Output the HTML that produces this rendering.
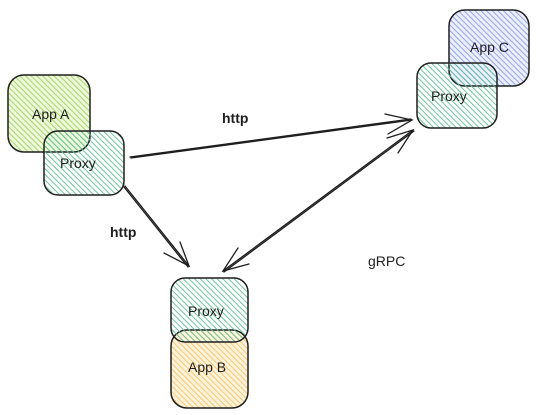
<!DOCTYPE html>
<html><head><style>
html,body{margin:0;padding:0;background:#fff;width:537px;height:415px;overflow:hidden}
svg text{font-family:"Liberation Sans",sans-serif;font-size:14px;fill:#1e1e1e}
</style></head><body>
<svg width="537" height="415" viewBox="0 0 537 415" xmlns="http://www.w3.org/2000/svg">
<defs>
<pattern id="hg" width="4" height="4" patternUnits="userSpaceOnUse" patternTransform="rotate(-45)"><rect width="4" height="4" fill="#eef8dc"/><line x1="0" y1="0" x2="0" y2="4" stroke="#9fd35a" stroke-width="1.8"/></pattern>
<pattern id="ht" width="4" height="4" patternUnits="userSpaceOnUse" patternTransform="rotate(-45)"><line x1="0" y1="0" x2="0" y2="4" stroke="#5cc097" stroke-width="1.8"/></pattern>
<pattern id="hb" width="4" height="4" patternUnits="userSpaceOnUse" patternTransform="rotate(-45)"><rect width="4" height="4" fill="#eceffc"/><line x1="0" y1="0" x2="0" y2="4" stroke="#8b9bee" stroke-width="1.8"/></pattern>
<pattern id="ho" width="4" height="4" patternUnits="userSpaceOnUse" patternTransform="rotate(-45)"><rect width="4" height="4" fill="#fdf3dc"/><line x1="0" y1="0" x2="0" y2="4" stroke="#f7c461" stroke-width="1.8"/></pattern>
</defs>
<g stroke="#1e1e1e" stroke-width="1.5">
<rect x="8" y="75" width="82" height="77" rx="16" fill="url(#hg)"/>
<rect x="44" y="131" width="80" height="64" rx="14" fill="url(#ht)"/>
<rect x="449" y="10" width="80" height="76" rx="16" fill="url(#hb)"/>
<rect x="417" y="63" width="80" height="65" rx="14" fill="url(#ht)"/>
<rect x="171" y="330" width="77" height="78" rx="16" fill="url(#ho)"/>
<rect x="171" y="278" width="77" height="64" rx="14" fill="url(#ht)"/>
</g>
<g stroke="#1e1e1e" stroke-width="1.3" fill="none" stroke-linecap="round">
<path d="M131 158 L412 120 M130 157 L411 119"/>
<path d="M385 114 L412 120 L388 134"/>
<path d="M125 186 L189 266 M124 187 L188 267"/>
<path d="M180 242 L189 266 L164 253"/>
<path d="M413 130 L223 271 M414 131 L224 272"/>
<path d="M398 153 L413 130 L387 138"/>
<path d="M238 248 L223 271 L249 264"/>
</g>
<text x="32" y="119">App A</text>
<text x="60" y="168">Proxy</text>
<text x="470" y="52">App C</text>
<text x="431" y="101">Proxy</text>
<text x="188" y="372">App B</text>
<text x="188" y="316">Proxy</text>
<text x="222" y="123" font-weight="bold">http</text>
<text x="110" y="237" font-weight="bold">http</text>
<text x="368" y="266" font-size="15">gRPC</text>
</svg>
</body></html>
